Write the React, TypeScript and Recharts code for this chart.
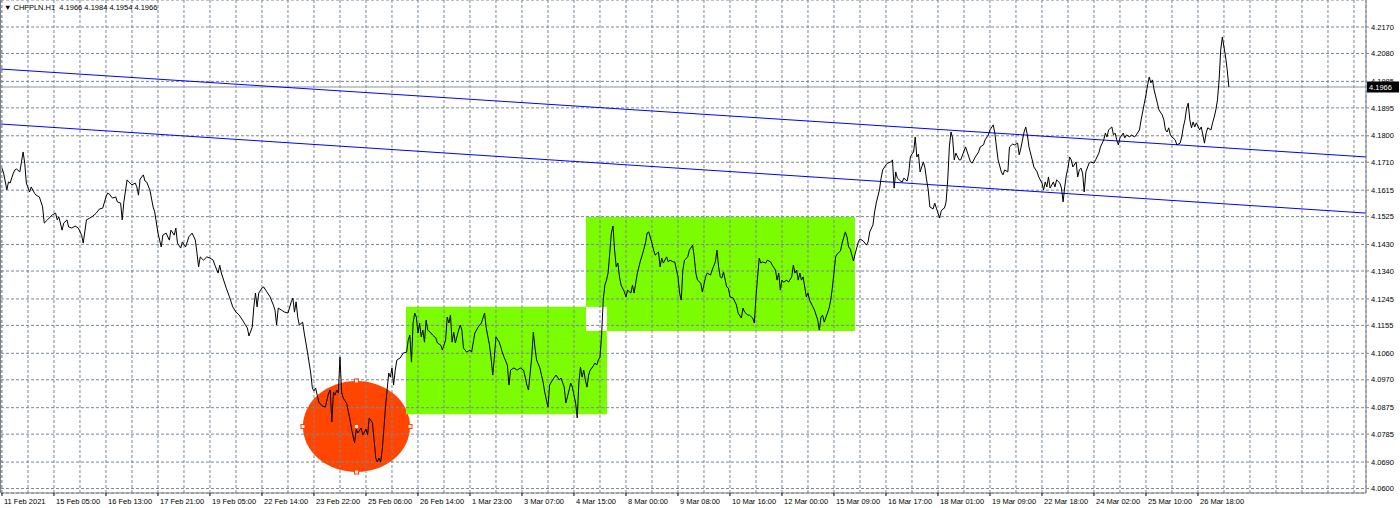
import React from "react";
import {
  LineChart,
  Line,
  XAxis,
  YAxis,
  CartesianGrid,
  ReferenceArea,
  ReferenceLine,
} from "recharts";

const FONT = "'Liberation Sans', Arial, sans-serif";

// [H1 bar number counted from 11 Feb 21:00, close]
const slideFeb: [number, number][] = [
  [0, 4.169], [1, 4.1673], [3, 4.1616], [4, 4.1643], [5, 4.1639], [7, 4.1673], [8, 4.1684], [9, 4.1687],
  [11, 4.1677], [12, 4.1711], [13, 4.1745], [14, 4.1707], [15, 4.1639], [17, 4.1609], [18, 4.1626], [20, 4.1605],
  [21, 4.1598], [23, 4.1592], [24, 4.1575], [25, 4.1558], [26, 4.1503], [28, 4.1514], [29, 4.152], [31, 4.1531],
  [33, 4.1537], [34, 4.1514], [35, 4.1524], [37, 4.1479], [38, 4.1503], [40, 4.1514], [41, 4.149], [43, 4.1486],
  [45, 4.1493], [47, 4.1486], [49, 4.1462], [50, 4.1435], [52, 4.1514], [54, 4.152], [56, 4.1527], [58, 4.1537],
  [60, 4.1551], [62, 4.1554], [64, 4.1592], [65, 4.1605], [66, 4.1602], [68, 4.1588], [70, 4.1592], [71, 4.1575],
  [73, 4.1571], [74, 4.1514], [75, 4.1575], [77, 4.165], [78, 4.1643], [80, 4.1633], [82, 4.1639], [83, 4.1626],
  [84, 4.1598], [85, 4.1653], [87, 4.1667], [88, 4.1646], [89, 4.1643], [91, 4.1616], [93, 4.1558], [94, 4.1541],
  [96, 4.1469], [97, 4.1445], [98, 4.1422], [99, 4.1462], [101, 4.1469], [103, 4.1445], [104, 4.1479], [106, 4.1462],
  [107, 4.1486], [108, 4.1435], [110, 4.1418], [111, 4.1439], [113, 4.1422], [115, 4.1456], [117, 4.1469], [119, 4.1445],
  [120, 4.1401], [121, 4.1354], [122, 4.1388], [124, 4.1377], [126, 4.1388], [128, 4.1384], [130, 4.1377], [131, 4.136],
  [133, 4.1333], [134, 4.136], [135, 4.1333], [137, 4.1299], [138, 4.1282], [140, 4.1252], [142, 4.1218], [144, 4.12],
  [146, 4.119], [148, 4.1173], [151, 4.1146], [152, 4.1119], [154, 4.1149], [155, 4.1218], [156, 4.1265], [157, 4.1218],
  [158, 4.1265], [160, 4.1282], [161, 4.1286], [163, 4.1269], [165, 4.1252], [167, 4.1224], [168, 4.1207], [169, 4.1156],
  [170, 4.1214], [172, 4.1207], [174, 4.12], [176, 4.1197], [178, 4.1235], [179, 4.1248], [180, 4.12], [181, 4.1235],
  [182, 4.1183], [183, 4.1156], [185, 4.1166], [186, 4.1129],
];

const lowFeb: [number, number][] = [
  [188, 4.1064], [190, 4.0993], [191, 4.0942], [192, 4.0932], [193, 4.0942], [194, 4.0918], [195, 4.0894], [197, 4.0881],
  [199, 4.0877], [201, 4.0925], [202, 4.0935], [203, 4.0826], [204, 4.0928], [205, 4.0918], [206, 4.0935], [207, 4.0925],
  [208, 4.1047], [209, 4.0928], [210, 4.0908], [212, 4.0891], [214, 4.084], [215, 4.0806], [217, 4.0755], [218, 4.0802],
  [219, 4.0789], [221, 4.0806], [222, 4.0782], [224, 4.0802], [225, 4.0782], [226, 4.084], [228, 4.0823], [229, 4.0765],
  [230, 4.0704], [231, 4.069], [232, 4.0704], [233, 4.069], [234, 4.0731], [235, 4.0802], [236, 4.0877], [237, 4.0935],
  [238, 4.0993], [239, 4.0979], [240, 4.101], [241, 4.0952], [242, 4.1003], [243, 4.1037], [245, 4.1044], [247, 4.1061],
  [249, 4.1064],
];

const rangeOne: [number, number][] = [
  [250, 4.1105], [251, 4.1122], [252, 4.103], [253, 4.1163], [254, 4.1197], [255, 4.1183], [256, 4.1129], [257, 4.1163],
  [258, 4.1116], [259, 4.1139], [260, 4.1098], [261, 4.1173], [262, 4.1139], [264, 4.1129], [265, 4.1122], [267, 4.1112],
  [268, 4.1095], [270, 4.1088], [271, 4.1071], [273, 4.1105], [274, 4.1183], [275, 4.1163], [276, 4.119], [277, 4.1098],
  [278, 4.1132], [279, 4.1095], [281, 4.1139], [282, 4.1156], [283, 4.1139], [284, 4.1078], [286, 4.1064], [288, 4.1071],
  [289, 4.1064], [291, 4.1129], [293, 4.1149], [295, 4.1163], [297, 4.1197], [298, 4.1146], [300, 4.1088], [301, 4.1044],
  [302, 4.0986], [303, 4.1047], [304, 4.1116], [306, 4.1098], [307, 4.1081], [308, 4.1061], [309, 4.1047], [311, 4.102],
  [312, 4.0952], [313, 4.1003], [315, 4.101], [317, 4.1003], [319, 4.101], [321, 4.1003], [322, 4.0979], [323, 4.0952],
  [324, 4.0935], [326, 4.1047], [327, 4.1132], [328, 4.1078], [329, 4.1037], [331, 4.101], [333, 4.0962], [334, 4.0928],
  [336, 4.0877], [337, 4.0952], [338, 4.0962], [340, 4.0979], [341, 4.0986], [343, 4.0969], [344, 4.0976], [346, 4.0945],
  [347, 4.0891], [349, 4.0935], [350, 4.0959], [351, 4.0945], [353, 4.0891], [354, 4.084], [355, 4.0959], [356, 4.1013],
  [357, 4.0979], [358, 4.1003], [359, 4.0969], [360, 4.0945], [361, 4.0986], [362, 4.1003], [363, 4.101], [365, 4.1027],
  [366, 4.102], [367, 4.1037], [368, 4.1047],
];

const rangeTwo: [number, number][] = [
  [369, 4.1122], [370, 4.1241], [371, 4.1292], [372, 4.1309], [373, 4.1333], [374, 4.1401], [375, 4.1469], [376, 4.1493],
  [377, 4.1411], [378, 4.1354], [379, 4.1367], [380, 4.132], [381, 4.1292], [383, 4.1269], [384, 4.1252], [385, 4.1275],
  [387, 4.1265], [388, 4.1292], [389, 4.1265], [391, 4.1333], [393, 4.1377], [394, 4.1394], [396, 4.1435], [397, 4.1469],
  [398, 4.1473], [400, 4.1435], [401, 4.1411], [402, 4.1394], [404, 4.1405], [405, 4.1354], [406, 4.1384], [407, 4.1367],
  [409, 4.1388], [410, 4.1371], [411, 4.1377], [413, 4.1371], [414, 4.1371], [416, 4.132], [417, 4.1265], [418, 4.1241],
  [419, 4.1343], [420, 4.1377], [422, 4.1388], [423, 4.1411], [425, 4.1428], [426, 4.1388], [427, 4.1333], [428, 4.1309],
  [430, 4.1299], [431, 4.1269], [433, 4.132], [434, 4.1333], [436, 4.1326], [437, 4.1343], [439, 4.1371], [440, 4.1411],
  [441, 4.1354], [442, 4.132], [443, 4.1316], [444, 4.1337], [446, 4.1286], [447, 4.1282], [448, 4.1252], [450, 4.1248],
  [452, 4.1224], [453, 4.1197], [455, 4.118], [456, 4.1214], [457, 4.12], [459, 4.119], [460, 4.119], [462, 4.118],
  [463, 4.1163], [464, 4.1252], [465, 4.132], [466, 4.1384], [467, 4.1367], [468, 4.1371], [470, 4.1367], [471, 4.1377],
  [473, 4.1371], [474, 4.136], [476, 4.1343], [477, 4.1309], [478, 4.1333], [479, 4.1275], [480, 4.1309], [481, 4.1302],
  [483, 4.1309], [484, 4.1302], [486, 4.132], [487, 4.136], [488, 4.1333], [489, 4.1343], [490, 4.1309], [491, 4.1333],
  [492, 4.1309], [493, 4.132], [495, 4.1252], [496, 4.1265], [497, 4.1241], [499, 4.1218], [500, 4.1207], [502, 4.1173],
  [503, 4.1139], [504, 4.1183], [505, 4.119], [506, 4.1166], [508, 4.1197], [509, 4.1214], [510, 4.1241], [511, 4.1282],
  [513, 4.1388], [514, 4.1398], [516, 4.1408], [517, 4.1435], [519, 4.1473], [520, 4.1456], [521, 4.1422], [522, 4.1415],
  [524, 4.1374],
];

const breakout: [number, number][] = [
  [525, 4.1398], [527, 4.1439], [528, 4.1449], [530, 4.1442], [532, 4.1428], [533, 4.1439], [534, 4.1473], [536, 4.1497],
  [537, 4.1541], [538, 4.1571], [540, 4.1616], [541, 4.1656], [542, 4.1684], [544, 4.1701], [545, 4.1707], [547, 4.1711],
  [548, 4.1718], [549, 4.1622], [550, 4.1677], [551, 4.1656], [553, 4.1646], [554, 4.1643], [555, 4.1656], [557, 4.1646],
  [558, 4.1673], [559, 4.1728], [560, 4.1738], [561, 4.1745], [562, 4.1796], [563, 4.1728], [564, 4.1738], [565, 4.1677],
  [567, 4.1711], [568, 4.169], [569, 4.165], [570, 4.1616], [571, 4.1558], [573, 4.1551], [574, 4.1571], [575, 4.1554],
  [577, 4.152], [578, 4.1544], [579, 4.1551], [580, 4.1554], [581, 4.1575], [582, 4.165], [583, 4.1762], [584, 4.1813],
  [585, 4.1793], [586, 4.1718], [587, 4.1741], [589, 4.1718], [590, 4.1718], [592, 4.1748], [593, 4.1762], [594, 4.1745],
  [596, 4.1711], [597, 4.1707], [599, 4.1728], [601, 4.1745], [602, 4.1762], [604, 4.1769], [605, 4.1786], [607, 4.1803],
  [608, 4.182], [610, 4.1837], [611, 4.1809], [612, 4.1762], [613, 4.1718], [615, 4.1677], [616, 4.1667], [617, 4.1684],
  [619, 4.1677], [620, 4.1762], [622, 4.1772], [623, 4.1769], [625, 4.1775], [626, 4.1735], [627, 4.1758], [629, 4.1813],
  [630, 4.183], [631, 4.1803], [632, 4.1762], [634, 4.1718], [635, 4.1694], [637, 4.1677], [638, 4.166], [640, 4.1639],
  [641, 4.1616], [642, 4.1643], [643, 4.1626], [644, 4.166], [645, 4.1622], [647, 4.1643], [648, 4.1626], [649, 4.165],
  [651, 4.1639], [652, 4.1622], [653, 4.1575], [654, 4.1626], [655, 4.1667], [656, 4.169], [657, 4.1728], [658, 4.1718],
  [659, 4.1694], [661, 4.1711], [662, 4.166], [663, 4.1684], [664, 4.169], [665, 4.1673], [666, 4.1609], [667, 4.1677],
  [669, 4.1707], [670, 4.1711], [672, 4.1707], [673, 4.1718], [675, 4.1741], [676, 4.1762], [678, 4.1786], [679, 4.1809],
  [680, 4.1796], [681, 4.182], [683, 4.183], [684, 4.1803], [685, 4.1809], [686, 4.1786], [687, 4.1769], [688, 4.1793],
  [690, 4.1809], [691, 4.1793], [692, 4.1803], [694, 4.1796], [695, 4.1803], [697, 4.1796], [698, 4.1803], [700, 4.182],
  [701, 4.1854], [703, 4.1911], [704, 4.1939], [705, 4.1973], [706, 4.2], [707, 4.198], [708, 4.199], [709, 4.1956],
  [711, 4.1911], [712, 4.1888], [714, 4.1871], [715, 4.1854], [716, 4.182], [717, 4.1813], [718, 4.1827], [719, 4.1803],
  [720, 4.1796], [722, 4.1786], [723, 4.1769], [725, 4.1775], [726, 4.1796], [727, 4.183], [728, 4.1854], [729, 4.1894],
  [730, 4.1911], [731, 4.1854], [732, 4.1827], [733, 4.1847], [734, 4.183], [735, 4.1844], [737, 4.182], [738, 4.183],
  [739, 4.1803], [740, 4.1775], [741, 4.1809], [742, 4.1827], [744, 4.182], [745, 4.1844], [746, 4.1864], [747, 4.1888],
  [748, 4.1922], [749, 4.199], [750, 4.2092], [751, 4.2136], [752, 4.2102], [753, 4.2068], [754, 4.2024], [755, 4.1966],
];

// time labels, one every 32 bars
const timeLabels = [
  "11 Feb 2021", "15 Feb 05:00", "16 Feb 13:00", "17 Feb 21:00", "19 Feb 05:00", "22 Feb 14:00",
  "23 Feb 22:00", "25 Feb 06:00", "26 Feb 14:00", "1 Mar 23:00", "3 Mar 07:00", "4 Mar 15:00",
  "8 Mar 00:00", "9 Mar 08:00", "10 Mar 16:00", "12 Mar 00:00", "15 Mar 09:00", "16 Mar 17:00",
  "18 Mar 01:00", "19 Mar 09:00", "22 Mar 18:00", "24 Mar 02:00", "25 Mar 10:00", "26 Mar 18:00",
];

const priceLabels = [
  "4.2170", "4.2080", "4.1985", "4.1895", "4.1800", "4.1710", "4.1615", "4.1525", "4.1430",
  "4.1340", "4.1245", "4.1155", "4.1060", "4.0970", "4.0875", "4.0785", "4.0690", "4.0600",
];

const symbol = "CHFPLN.H1";
const lastBar = ["4.1966", "4.1984", "4.1954", "4.1966"]; // open high low close
const bid = 4.1966;

// drawn objects: [bar, price] corners
const upperTrend: [number, number][] = [[-0.6, 4.2027], [839.4, 4.1728]];
const lowerTrend: [number, number][] = [[-0.6, 4.184], [839.4, 4.1537]];
const ellipseBox: [number, number][] = [[185.2, 4.0656], [251.1, 4.0966]];
const boxOne: [number, number][] = [[248.6, 4.0853], [372.3, 4.1218]];
const boxTwo: [number, number][] = [[359.4, 4.1136], [524.9, 4.1524]];

const data = [...slideFeb, ...lowFeb, ...rangeOne, ...rangeTwo, ...breakout].map(
  ([h, close]) => ({ h, close })
);

const gridTicks: number[] = [];
for (let t = 0; t <= 832; t += 16) gridTicks.push(t);

const GRID = "#778899";

const TimeTick = (props: any) => {
  const { x, y, payload } = props;
  const idx = payload.value / 32;
  const text = Number.isInteger(idx) ? timeLabels[idx] : undefined;
  if (!text) return <g />;
  return (
    <g>
      <line x1={x} y1={y} x2={x} y2={y + 3} stroke="#000" />
      <text x={x + 2} y={y + 11} fontSize={7.5} fontFamily={FONT} fill="#000">
        {text}
      </text>
    </g>
  );
};

const EllipseShape = (p: any) => {
  const cx = p.x + p.width / 2;
  const cy = p.y + p.height / 2;
  const rx = p.width / 2;
  const ry = p.height / 2;
  const handles = [
    [cx - rx, cy],
    [cx + rx, cy],
    [cx, cy - ry],
    [cx, cy + ry],
  ];
  return (
    <g>
      <ellipse cx={cx} cy={cy} rx={rx} ry={ry} fill="#FF4500" />
      {handles.map(([hx, hy], i) => (
        <rect key={i} x={hx - 2} y={hy - 2} width={4} height={4} fill="#fff" stroke="#FF4500" />
      ))}
      <rect x={cx - 1.5} y={cy - 1.5} width={3} height={3} fill="#fff" />
    </g>
  );
};

const PriceTag = (props: any) => {
  const { x, y, width } = props.viewBox;
  return (
    <g>
      <rect x={x + width + 1} y={y - 5.5} width={32} height={11} fill="#000" />
      <text x={x + width + 3} y={y + 3} fontSize={7.5} fontFamily={FONT} fill="#fff">
        {lastBar[3]}
      </text>
    </g>
  );
};

const App: React.FC = () => {
  return (
    <div
      style={{
        position: "absolute",
        left: 0,
        top: 0,
        width: 1400,
        height: 508,
        background: "#fff",
        overflow: "hidden",
      }}
    >
      <div style={{ position: "absolute", left: 0, top: 0, width: 1, height: 493, background: "#808080" }} />
      <div style={{ position: "absolute", left: 1 }}>
        <LineChart width={1399} height={508} data={data} margin={{ top: 0, right: 0, bottom: 0, left: 0 }}>
          <ReferenceArea
            x1={ellipseBox[0][0]}
            x2={ellipseBox[1][0]}
            y1={ellipseBox[0][1]}
            y2={ellipseBox[1][1]}
            shape={EllipseShape}
            zIndex={-300}
          />
          <ReferenceArea
            x1={boxOne[0][0]}
            x2={boxOne[1][0]}
            y1={boxOne[0][1]}
            y2={boxOne[1][1]}
            fill="#7CFC00"
            fillOpacity={1}
            stroke="none"
            zIndex={-300}
          />
          <ReferenceArea
            x1={boxTwo[0][0]}
            x2={boxTwo[1][0]}
            y1={boxTwo[0][1]}
            y2={boxTwo[1][1]}
            fill="#7CFC00"
            fillOpacity={1}
            stroke="none"
            zIndex={-300}
          />
          {/* overlapping part of the two boxes comes out white */}
          <ReferenceArea
            x1={boxTwo[0][0]}
            x2={boxOne[1][0]}
            y1={boxTwo[0][1]}
            y2={boxOne[1][1]}
            fill="#fff"
            fillOpacity={1}
            stroke="none"
            zIndex={-300}
          />
          <CartesianGrid stroke={GRID} strokeDasharray="3 2" zIndex={-100} />
          <XAxis
            dataKey="h"
            type="number"
            domain={[-0.6, 839.4]}
            allowDataOverflow
            ticks={gridTicks}
            interval={0}
            height={15}
            tickSize={0}
            tickMargin={0}
            tick={<TimeTick />}
            axisLine={{ stroke: "#808080" }}
          />
          <YAxis
            orientation="right"
            type="number"
            width={34}
            domain={[4.05848, 4.22619]}
            allowDataOverflow
            ticks={priceLabels.map(Number)}
            tickFormatter={(v: number) => v.toFixed(4)}
            interval={0}
            tickSize={3}
            tickMargin={2}
            tickLine={{ stroke: GRID }}
            axisLine={{ stroke: "#808080" }}
            tick={{ fontSize: 7.5, fill: "#000", fontFamily: FONT }}
          />
          <ReferenceLine
            y={bid}
            stroke="#8896a6"
            strokeWidth={1}
            label={<PriceTag />}
          />
          <ReferenceLine
            segment={[
              { x: upperTrend[0][0], y: upperTrend[0][1] },
              { x: upperTrend[1][0], y: upperTrend[1][1] },
            ]}
            stroke="#0000ff"
            strokeWidth={1}
          />
          <ReferenceLine
            segment={[
              { x: lowerTrend[0][0], y: lowerTrend[0][1] },
              { x: lowerTrend[1][0], y: lowerTrend[1][1] },
            ]}
            stroke="#0000ff"
            strokeWidth={1}
          />
          <Line
            type="linear"
            dataKey="close"
            stroke="#000"
            strokeWidth={1}
            dot={false}
            isAnimationActive={false}
          />
        </LineChart>
      </div>
      <div
        style={{
          position: "absolute",
          left: 4,
          top: 3,
          fontSize: 7.5,
          lineHeight: "10px",
          fontFamily: FONT,
          whiteSpace: "pre",
          color: "#000",
        }}
      >
        {"\u25BC " + symbol + "  " + lastBar.join(" ")}
      </div>
    </div>
  );
};

export default App;
